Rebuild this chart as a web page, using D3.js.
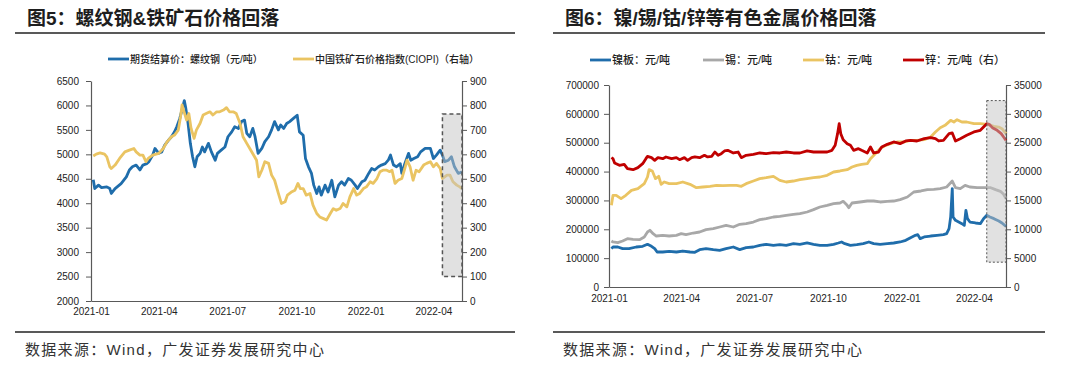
<!DOCTYPE html>
<html>
<head>
<meta charset="utf-8">
<script src="https://cdn.jsdelivr.net/npm/d3@7"></script>
<style>
  body { margin: 0; background: #fff; }
  text { font-family: "Liberation Sans", Arial, "Noto Sans CJK SC", sans-serif; }
</style>
</head>
<body>
<svg id="chart" width="1080" height="367"></svg>
<script>
// ---- data: chart 5 (rebar futures, left axis; iron ore CIOPI, right axis) ----
const steelRebar = [
  ["2021-01-04",4480],["2021-01-06",4300],["2021-01-11",4370],["2021-01-15",4320],["2021-01-22",4335],["2021-01-26",4300],
  ["2021-01-28",4200],["2021-02-02",4300],["2021-02-10",4400],["2021-02-17",4540],["2021-02-21",4680],["2021-02-25",4745],
  ["2021-03-02",4780],["2021-03-07",4680],["2021-03-11",4780],["2021-03-16",4810],["2021-03-19",4850],["2021-03-24",4985],
  ["2021-03-27",5120],["2021-04-01",5020],["2021-04-05",5050],["2021-04-09",5190],["2021-04-14",5290],["2021-04-18",5360],
  ["2021-04-22",5460],["2021-04-25",5565],["2021-04-29",5735],["2021-05-03",5975],["2021-05-05",6100],["2021-05-07",5940],
  ["2021-05-10",5630],["2021-05-13",5225],["2021-05-16",4950],["2021-05-19",4745],["2021-05-22",4950],["2021-05-26",5020],
  ["2021-05-29",5150],["2021-06-01",5050],["2021-06-06",5225],["2021-06-10",5050],["2021-06-15",4880],["2021-06-18",5020],
  ["2021-06-23",5085],["2021-06-28",5150],["2021-07-02",5360],["2021-07-07",5460],["2021-07-11",5565],["2021-07-16",5530],
  ["2021-07-20",5670],["2021-07-24",5700],["2021-07-27",5430],["2021-07-31",5360],["2021-08-04",5530],["2021-08-07",5360],
  ["2021-08-11",5020],["2021-08-16",5120],["2021-08-20",5260],["2021-08-25",5360],["2021-08-29",5500],["2021-09-02",5670],
  ["2021-09-07",5500],["2021-09-10",5600],["2021-09-14",5530],["2021-09-18",5630],["2021-09-22",5670],["2021-09-27",5735],
  ["2021-10-02",5800],["2021-10-05",5460],["2021-10-10",5390],["2021-10-13",4915],["2021-10-17",4745],["2021-10-21",4610],
  ["2021-10-24",4370],["2021-10-28",4200],["2021-10-31",4335],["2021-11-03",4165],["2021-11-08",4370],["2021-11-12",4230],
  ["2021-11-17",4470],["2021-11-21",4130],["2021-11-26",4370],["2021-11-30",4440],["2021-12-04",4370],["2021-12-09",4505],
  ["2021-12-13",4470],["2021-12-18",4370],["2021-12-21",4300],["2021-12-27",4440],["2021-12-31",4470],["2022-01-05",4610],
  ["2022-01-09",4710],["2022-01-13",4680],["2022-01-18",4745],["2022-01-22",4780],["2022-01-27",4810],["2022-01-31",4880],
  ["2022-02-03",4985],["2022-02-07",4780],["2022-02-11",4745],["2022-02-16",4810],["2022-02-18",4610],["2022-02-22",4810],
  ["2022-02-27",5020],["2022-03-02",4880],["2022-03-06",4915],["2022-03-11",4950],["2022-03-15",5050],["2022-03-21",5120],
  ["2022-03-28",5120],["2022-04-01",4915],["2022-04-05",4985],["2022-04-10",5085],["2022-04-13",4985],["2022-04-16",4850],
  ["2022-04-21",4880],["2022-04-25",4950],["2022-04-29",4745],["2022-05-04",4610],["2022-05-09",4645]
];
const ironOreCiopi = [
  ["2021-01-04",593],["2021-01-08",601],["2021-01-13",606],["2021-01-19",601],["2021-01-22",590],["2021-01-26",549],
  ["2021-01-28",542],["2021-02-02",556],["2021-02-08",583],["2021-02-15",610],["2021-02-21",617],["2021-02-27",624],
  ["2021-03-02",610],["2021-03-07",597],["2021-03-11",597],["2021-03-15",570],["2021-03-18",583],["2021-03-24",597],
  ["2021-04-01",604],["2021-04-07",624],["2021-04-12",651],["2021-04-18",672],["2021-04-22",679],["2021-04-27",699],
  ["2021-04-30",754],["2021-05-02",802],["2021-05-04",781],["2021-05-08",740],["2021-05-11",767],["2021-05-14",706],
  ["2021-05-18",665],["2021-05-21",699],["2021-05-26",727],["2021-05-30",761],["2021-06-03",767],["2021-06-08",774],
  ["2021-06-12",761],["2021-06-17",774],["2021-06-21",774],["2021-06-26",781],["2021-06-30",791],["2021-07-04",774],
  ["2021-07-09",774],["2021-07-13",767],["2021-07-18",727],["2021-07-22",672],["2021-07-27",645],["2021-07-31",624],
  ["2021-08-05",597],["2021-08-09",576],["2021-08-12",508],["2021-08-16",535],["2021-08-20",570],["2021-08-25",563],
  ["2021-08-29",515],["2021-09-02",494],["2021-09-07",440],["2021-09-11",399],["2021-09-16",406],["2021-09-19",433],
  ["2021-09-25",447],["2021-09-29",453],["2021-10-03",481],["2021-10-06",460],["2021-10-10",460],["2021-10-14",433],
  ["2021-10-19",440],["2021-10-23",392],["2021-10-28",358],["2021-11-01",344],["2021-11-06",337],["2021-11-10",331],
  ["2021-11-15",358],["2021-11-19",378],["2021-11-23",371],["2021-11-28",378],["2021-12-02",399],["2021-12-07",385],
  ["2021-12-11",426],["2021-12-16",460],["2021-12-20",433],["2021-12-24",440],["2021-12-29",460],["2022-01-02",467],
  ["2022-01-07",488],["2022-01-11",481],["2022-01-16",501],["2022-01-20",529],["2022-01-24",535],["2022-01-29",535],
  ["2022-02-02",529],["2022-02-05",535],["2022-02-09",481],["2022-02-13",494],["2022-02-18",501],["2022-02-22",542],
  ["2022-02-25",576],["2022-03-01",549],["2022-03-05",494],["2022-03-09",535],["2022-03-13",529],["2022-03-19",556],
  ["2022-03-23",563],["2022-03-28",570],["2022-04-01",549],["2022-04-05",563],["2022-04-10",542],["2022-04-13",501],
  ["2022-04-19",515],["2022-04-23",515],["2022-04-27",488],["2022-05-02",474],["2022-05-06",467],["2022-05-09",460]
];

// ---- data: chart 6 (nickel, tin, cobalt on left axis; zinc on right axis) ----
const nickelPlate = [
  ["2021-01-04",133000],["2021-01-06",138600],["2021-01-12",138600],["2021-01-18",133000],["2021-01-26",133000],["2021-02-04",138600],
  ["2021-02-12",141000],["2021-02-18",148000],["2021-02-23",141000],["2021-02-27",133000],["2021-03-02",121300],["2021-03-09",121300],
  ["2021-03-17",123600],["2021-03-26",121300],["2021-04-03",124700],["2021-04-12",121300],["2021-04-18",120100],["2021-04-24",129400],
  ["2021-05-02",133000],["2021-05-11",129400],["2021-05-19",127000],["2021-05-27",133000],["2021-06-05",138600],["2021-06-13",129400],
  ["2021-06-21",136300],["2021-06-30",138600],["2021-07-08",144400],["2021-07-16",148000],["2021-07-25",144400],["2021-08-02",146700],
  ["2021-08-10",144400],["2021-08-19",150200],["2021-08-27",148000],["2021-09-05",152500],["2021-09-13",148000],["2021-09-21",144400],
  ["2021-09-30",144400],["2021-10-08",148000],["2021-10-14",152500],["2021-10-18",156000],["2021-10-22",150200],["2021-10-29",144400],
  ["2021-11-06",146700],["2021-11-14",150200],["2021-11-21",156000],["2021-11-27",150200],["2021-12-05",148000],["2021-12-14",150200],
  ["2021-12-22",152500],["2021-12-30",156000],["2022-01-06",161700],["2022-01-12",171000],["2022-01-18",179000],["2022-01-21",181400],
  ["2022-01-24",167500],["2022-01-29",173300],["2022-02-06",176700],["2022-02-14",179000],["2022-02-22",181400],["2022-02-26",184800],
  ["2022-03-01",202100],["2022-03-03",242600],["2022-03-05",340800],["2022-03-06",242600],["2022-03-09",231000],["2022-03-13",225200],
  ["2022-03-17",219500],["2022-03-20",213700],["2022-03-22",265700],["2022-03-24",236800],["2022-03-27",225200],["2022-04-03",221800],
  ["2022-04-09",219500],["2022-04-13",236800],["2022-04-17",248300],["2022-04-21",242600],["2022-04-26",236800],["2022-05-02",228700],
  ["2022-05-06",221800],["2022-05-11",210000]
];
const tin = [
  ["2021-01-04",159400],["2021-01-06",156000],["2021-01-12",153600],["2021-01-18",159400],["2021-01-24",167500],["2021-01-31",165200],
  ["2021-02-08",164000],["2021-02-14",173300],["2021-02-18",190600],["2021-02-21",196400],["2021-02-25",184800],["2021-03-01",176700],
  ["2021-03-09",179000],["2021-03-17",176700],["2021-03-26",179000],["2021-04-01",184800],["2021-04-07",181400],["2021-04-16",187100],
  ["2021-04-24",190600],["2021-05-02",198700],["2021-05-11",202100],["2021-05-19",207900],["2021-05-27",213700],["2021-06-05",207900],
  ["2021-06-13",217200],["2021-06-21",219500],["2021-06-30",225200],["2021-07-08",233300],["2021-07-16",236800],["2021-07-25",242600],
  ["2021-08-02",244900],["2021-08-10",248300],["2021-08-19",251800],["2021-08-27",254100],["2021-09-05",259900],["2021-09-13",268000],
  ["2021-09-21",277200],["2021-09-30",283000],["2021-10-08",288800],["2021-10-16",291100],["2021-10-20",296900],["2021-10-25",283000],
  ["2021-10-27",274900],["2021-10-31",291100],["2021-11-10",294600],["2021-11-19",298000],["2021-11-27",298000],["2021-12-05",294600],
  ["2021-12-14",296900],["2021-12-22",298000],["2021-12-30",302600],["2022-01-08",311900],["2022-01-16",329200],["2022-01-25",332700],
  ["2022-02-02",337300],["2022-02-10",338400],["2022-02-18",340800],["2022-02-26",346500],["2022-03-05",367300],["2022-03-09",344200],
  ["2022-03-15",340800],["2022-03-21",352300],["2022-03-27",346500],["2022-04-05",344200],["2022-04-13",344200],["2022-04-22",344200],
  ["2022-04-28",337300],["2022-05-04",331500],["2022-05-08",321100],["2022-05-11",306100]
];
const cobalt = [
  ["2021-01-04",283000],["2021-01-06",317700],["2021-01-10",317700],["2021-01-16",306100],["2021-01-22",317700],["2021-01-29",335000],
  ["2021-02-06",340800],["2021-02-14",358100],["2021-02-18",381200],["2021-02-20",406600],["2021-02-24",402000],["2021-02-28",375400],
  ["2021-03-04",383500],["2021-03-07",355800],["2021-03-11",363900],["2021-03-17",358100],["2021-03-26",358100],["2021-04-03",363900],
  ["2021-04-12",355800],["2021-04-20",344200],["2021-04-28",346500],["2021-05-07",348800],["2021-05-15",352300],["2021-05-23",351100],
  ["2021-06-01",352300],["2021-06-09",352300],["2021-06-15",348800],["2021-06-21",358100],["2021-06-30",367300],["2021-07-08",375400],
  ["2021-07-16",378900],["2021-07-25",383500],["2021-08-02",369600],["2021-08-10",363900],["2021-08-19",367300],["2021-08-27",371900],
  ["2021-09-05",375400],["2021-09-13",378900],["2021-09-21",381200],["2021-09-30",387000],["2021-10-08",398500],["2021-10-16",402000],
  ["2021-10-25",406600],["2021-10-31",415800],["2021-11-06",421600],["2021-11-12",425100],["2021-11-19",427400],["2021-11-23",444700],
  ["2021-11-29",462000],["2021-12-05",479400],["2021-12-12",490900],["2021-12-18",496700],["2021-12-26",502500],["2022-01-04",502500],
  ["2022-01-12",508200],["2022-01-20",508200],["2022-01-29",510600],["2022-02-06",519800],["2022-02-12",537100],["2022-02-18",552100],
  ["2022-02-24",560200],["2022-03-03",577500],["2022-03-07",571800],["2022-03-11",579900],["2022-03-17",571800],["2022-03-23",571800],
  ["2022-04-01",566000],["2022-04-09",566000],["2022-04-18",563700],["2022-04-26",556800],["2022-05-02",554400],["2022-05-06",548700],
  ["2022-05-11",531300]
];
const zinc = [
  ["2021-01-04",22410],["2021-01-06",22240],["2021-01-08",21490],["2021-01-14",21080],["2021-01-20",21260],["2021-01-24",20500],
  ["2021-01-31",20330],["2021-02-06",20680],["2021-02-12",21370],["2021-02-16",22240],["2021-02-18",22640],["2021-02-23",22410],
  ["2021-02-27",21950],["2021-03-03",22410],["2021-03-09",22240],["2021-03-13",22530],["2021-03-20",22240],["2021-03-26",22410],
  ["2021-03-30",22060],["2021-04-05",22410],["2021-04-09",21950],["2021-04-14",22410],["2021-04-18",22530],["2021-04-24",22410],
  ["2021-04-30",22820],["2021-05-04",22530],["2021-05-09",22640],["2021-05-13",23390],["2021-05-17",22820],["2021-05-21",23100],
  ["2021-05-25",23570],["2021-05-29",23680],["2021-06-05",23220],["2021-06-11",23390],["2021-06-15",22410],["2021-06-21",22820],
  ["2021-06-30",22990],["2021-07-08",23220],["2021-07-16",23100],["2021-07-25",23280],["2021-08-02",23220],["2021-08-10",23390],
  ["2021-08-19",23220],["2021-08-27",23220],["2021-09-05",23570],["2021-09-13",23390],["2021-09-21",23390],["2021-09-30",23390],
  ["2021-10-06",23680],["2021-10-10",24550],["2021-10-13",26570],["2021-10-15",28300],["2021-10-17",26570],["2021-10-20",25530],
  ["2021-10-25",24840],["2021-10-29",24550],["2021-11-02",23680],["2021-11-08",23970],["2021-11-12",23680],["2021-11-19",23220],
  ["2021-11-23",24260],["2021-11-27",23220],["2021-12-03",23390],["2021-12-07",24260],["2021-12-14",24720],["2021-12-22",25130],
  ["2021-12-30",24840],["2022-01-06",25300],["2022-01-12",25410],["2022-01-20",25300],["2022-01-29",25700],["2022-02-06",25880],
  ["2022-02-12",25700],["2022-02-16",25300],["2022-02-22",25410],["2022-03-01",26570],["2022-03-05",26690],["2022-03-09",25300],
  ["2022-03-15",25700],["2022-03-23",26280],["2022-04-01",26860],["2022-04-09",27150],["2022-04-13",27720],["2022-04-17",28300],
  ["2022-04-20",28190],["2022-04-24",27610],["2022-04-30",27150],["2022-05-05",26570],["2022-05-08",25990],["2022-05-11",25410]
];

// tick labels and highlighted windows ([start date, right-axis low, right-axis high])
const quarterTicks = ["2021-01-01","2021-04-01","2021-07-01","2021-10-01","2022-01-01","2022-04-01"];
const steelLeftTicks = [2000,2500,3000,3500,4000,4500,5000,5500,6000,6500];
const steelRightTicks = [0,100,200,300,400,500,600,700,800,900];
const metalLeftTicks = [0,100000,200000,300000,400000,500000,600000,700000];
const metalRightTicks = [0,5000,10000,15000,20000,25000,30000,35000];
const steelHighlight = ["2022-04-13",100,765];
const metalHighlight = ["2022-04-17",4300,32300];

const parse = d3.timeParse("%Y-%m-%d");
const svg = d3.select("#chart");

// draws one titled panel with two y axes
function drawPanel(cfg) {
  const g = svg.append("g");

  // title and rules
  g.append("text")
    .attr("x", cfg.titleX).attr("y", 25)
    .attr("font-family", "'Noto Sans CJK SC', sans-serif")
    .attr("font-size", 19).attr("font-weight", "bold").attr("fill", "#1e1e1e")
    .text(cfg.title);
  g.append("line").attr("x1", cfg.rule[0]).attr("x2", cfg.rule[1]).attr("y1", 33).attr("y2", 33)
    .attr("stroke", "#222").attr("stroke-width", 1.5);
  g.append("line").attr("x1", cfg.rule[0]).attr("x2", cfg.rule[1]).attr("y1", 332).attr("y2", 332)
    .attr("stroke", "#222").attr("stroke-width", 1.5);
  g.append("text")
    .attr("x", cfg.sourceX).attr("y", 355)
    .attr("font-size", 15).attr("fill", "#333").attr("letter-spacing", 1.3)
    .text("数据来源：Wind，广发证券发展研究中心");

  // scales
  const x = d3.scaleTime()
    .domain([parse("2021-01-01"), parse(cfg.endDate)])
    .range([cfg.left, cfg.right]);
  const yL = d3.scaleLinear().domain(d3.extent(cfg.leftTicks)).range([cfg.bottom, cfg.top]);
  const yR = d3.scaleLinear().domain(d3.extent(cfg.rightTicks)).range([cfg.bottom, cfg.top]);

  // axes
  const styleAxis = sel => {
    sel.select(".domain").attr("stroke", "#595959").attr("stroke-width", 1.2);
    sel.selectAll(".tick line").attr("stroke", "#595959");
    sel.selectAll("text").attr("font-size", 10).attr("fill", "#222")
      .attr("font-family", "'Liberation Sans', Arial, sans-serif");
  };
  const plain = d3.format("d");
  g.append("g").attr("transform", `translate(0,${cfg.bottom})`)
    .call(d3.axisBottom(x).tickValues(quarterTicks.map(parse))
      .tickFormat(d3.timeFormat("%Y-%m")).tickSize(0).tickPadding(cfg.xPad))
    .call(styleAxis);
  g.append("g").attr("transform", `translate(${cfg.left},0)`)
    .call(d3.axisLeft(yL).tickValues(cfg.leftTicks).tickFormat(plain)
      .tickSize(5).tickPadding(cfg.lPad).tickSizeOuter(0))
    .call(styleAxis);
  g.append("g").attr("transform", `translate(${cfg.right},0)`)
    .call(d3.axisRight(yR).tickValues(cfg.rightTicks).tickFormat(plain)
      .tickSize(5).tickPadding(3).tickSizeOuter(0))
    .call(styleAxis);

  // series lines
  cfg.series.forEach(s => {
    const y = s.axis === "right" ? yR : yL;
    const line = d3.line().x(d => x(parse(d[0]))).y(d => y(d[1]));
    g.append("path").datum(s.data)
      .attr("fill", "none").attr("stroke", s.color).attr("stroke-width", 2.8)
      .attr("stroke-linejoin", "round").attr("d", line);
  });

  // shaded window on top of the lines
  const hx = x(parse(cfg.highlight[0]));
  g.append("rect")
    .attr("x", hx).attr("y", yR(cfg.highlight[2]))
    .attr("width", cfg.right - hx).attr("height", yR(cfg.highlight[1]) - yR(cfg.highlight[2]))
    .attr("fill", "#c4c4c4").attr("fill-opacity", 0.5)
    .attr("stroke", "#555").attr("stroke-width", cfg.boxStroke).attr("stroke-dasharray", cfg.boxDash);

  // legend
  cfg.legend.forEach((item, i) => {
    const lg = g.append("g").attr("transform", `translate(${item.x},${cfg.legendY})`);
    lg.append("line").attr("x1", 0).attr("x2", 21).attr("stroke", cfg.series[i].color).attr("stroke-width", 2.8);
    lg.append("text").attr("x", 22).attr("dy", "0.35em")
      .attr("font-family", "'Noto Sans CJK SC', sans-serif")
      .attr("font-size", cfg.legendSize).attr("font-weight", 500).attr("fill", "#222")
      .text(item.label);
  });
}

drawPanel({
  title: "图5：螺纹钢&铁矿石价格回落", titleX: 27, rule: [15, 515], sourceX: 25,
  left: 91, right: 462, top: 81, bottom: 301, endDate: "2022-05-09",
  leftTicks: steelLeftTicks, rightTicks: steelRightTicks, xPad: 7, lPad: 7,
  series: [
    { data: steelRebar, axis: "left", color: "#1f6dab" },
    { data: ironOreCiopi, axis: "right", color: "#eac462" }
  ],
  highlight: steelHighlight, boxStroke: 1.5, boxDash: "4,3",
  legendY: 59, legendSize: 10,
  legend: [
    { x: 108, label: "期货结算价：螺纹钢（元/吨）" },
    { x: 293, label: "中国铁矿石价格指数(CIOPI)（右轴）" }
  ]
});

drawPanel({
  title: "图6：镍/锡/钴/锌等有色金属价格回落", titleX: 565, rule: [553, 1045], sourceX: 563,
  left: 609, right: 1006, top: 85, bottom: 287, endDate: "2022-05-11",
  leftTicks: metalLeftTicks, rightTicks: metalRightTicks, xPad: 8, lPad: 5,
  series: [
    { data: nickelPlate, axis: "left", color: "#1f6dab" },
    { data: tin, axis: "left", color: "#a8a8a8" },
    { data: cobalt, axis: "left", color: "#eac462" },
    { data: zinc, axis: "right", color: "#c00000" }
  ],
  highlight: metalHighlight, boxStroke: 1, boxDash: "2,2",
  legendY: 60, legendSize: 11,
  legend: [
    { x: 590, label: "镍板：元/吨" },
    { x: 703, label: "锡：元/吨" },
    { x: 803, label: "钴：元/吨" },
    { x: 903, label: "锌：元/吨（右）" }
  ]
});
</script>
</body>
</html>
